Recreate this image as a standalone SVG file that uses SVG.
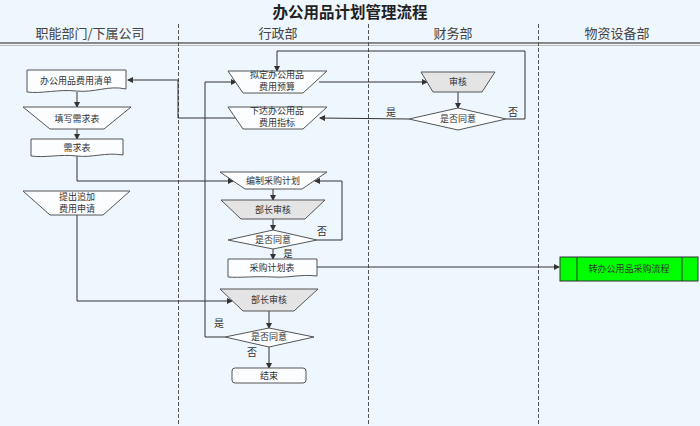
<svg xmlns="http://www.w3.org/2000/svg" width="700" height="426" viewBox="0 0 700 426">
<defs>
<marker id="arr" markerWidth="6" markerHeight="6" refX="5" refY="3" orient="auto" markerUnits="userSpaceOnUse">
<path d="M0,0 L6,3 L0,6 Z" fill="#333"/>
</marker>
<style>
.t{font-family:"Noto Sans CJK SC","Noto Sans",sans-serif;font-size:9px;fill:#333;text-anchor:middle}
.lb{font-family:"Noto Sans CJK SC","Noto Sans",sans-serif;font-size:10px;fill:#333;text-anchor:middle}
.hd{font-family:"Noto Sans CJK SC","Noto Sans",sans-serif;font-size:13px;fill:#444;text-anchor:middle}
.sh{fill:#fbfdff;stroke:#555;stroke-width:1}
.gr{fill:#e4e4e4;stroke:#555;stroke-width:1}
.c{fill:none;stroke:#333;stroke-width:1}
.ca{fill:none;stroke:#333;stroke-width:1;marker-end:url(#arr)}
.lane{stroke:#555;stroke-width:1;stroke-dasharray:4 2}
</style>
</defs>
<rect x="0" y="0" width="700" height="426" fill="#eef6fe"/>
<g id="header">
<text x="350" y="18" font-family="'Noto Sans CJK SC',sans-serif" font-size="15.5" font-weight="bold" fill="#222" text-anchor="middle">办公用品计划管理流程</text>
<text class="hd" x="90" y="38">职能部门/下属公司</text>
<text class="hd" x="278" y="38">行政部</text>
<text class="hd" x="453" y="38">财务部</text>
<text class="hd" x="617" y="38">物资设备部</text>
<line x1="0" y1="43" x2="700" y2="43" stroke="#888" stroke-width="2"/>
<line x1="0" y1="45.5" x2="700" y2="45.5" stroke="#bbb" stroke-width="1"/>
</g>
<g id="lanes">
<line class="lane" x1="178.5" y1="24" x2="178.5" y2="426"/>
<line class="lane" x1="368.5" y1="24" x2="368.5" y2="426"/>
<line class="lane" x1="538.5" y1="24" x2="538.5" y2="426"/>
</g>
<g id="connectors">
<polyline class="ca" points="236,118 178,118 178,80 128,80"/>
<polyline class="ca" points="409,119 320,118"/>
<polyline class="ca" points="506,119 525,119 525,51 277,51 277,71"/>
<polyline class="ca" points="319,82 427,82"/>
<polyline class="ca" points="225,337 205,337 205,82 236,82"/>
<polyline class="ca" points="458,92 458,108"/>
<polyline class="ca" points="77,92 77,107"/>
<polyline class="ca" points="77,129 77,139"/>
<polyline class="ca" points="77,156 77,181 233,181"/>
<polyline class="ca" points="273,189 273,200"/>
<polyline class="ca" points="273,219 273,230"/>
<polyline class="ca" points="317,240 342,240 342,181 315,181"/>
<polyline class="ca" points="273,249 273,259"/>
<polyline class="ca" points="317,267 559,267"/>
<polyline class="ca" points="77,215 77,301 232,301"/>
<polyline class="ca" points="269,311 269,328"/>
<polyline class="ca" points="269,347 269,368"/>
</g>
<g id="labels">
<text class="lb" x="391" y="116">是</text>
<text class="lb" x="513" y="116">否</text>
<text class="lb" x="322" y="235">否</text>
<text class="lb" x="288" y="257" style="font-size:9.5px">是</text>
<text class="lb" x="219" y="327">是</text>
<text class="lb" x="252" y="356">否</text>
</g>
<g id="n_qingdan">
<path class="sh" d="M27,70 H126 V89 C108,85 95,93 76,91 C58,89 42,94 27,92 Z"/>
<text class="t" x="76" y="84">办公用品费用清单</text>
</g>
<g id="n_tianxie">
<path class="sh" d="M23,107 H131 L104,129 H50 Z"/>
<text class="t" x="77" y="122">填写需求表</text>
</g>
<g id="n_xuqiu">
<path class="sh" d="M31,139 H123 V155 C105,152 92,158 77,156 C60,154 45,158 31,156 Z"/>
<text class="t" x="77" y="151">需求表</text>
</g>
<g id="n_tichu">
<path class="sh" d="M23,191 H130 L103,215 H50 Z"/>
<text class="t" x="77" y="200">提出追加</text>
<text class="t" x="77" y="212">费用申请</text>
</g>
<g id="n_niding">
<path class="sh" d="M228,71 H327 L303,93 H243 Z"/>
<text class="t" x="277" y="78">拟定办公用品</text>
<text class="t" x="277" y="90">费用预算</text>
</g>
<g id="n_xiada">
<path class="sh" d="M228,107 H327 L303,129 H243 Z"/>
<text class="t" x="277" y="114">下达办公用品</text>
<text class="t" x="277" y="126">费用指标</text>
</g>
<g id="n_shenhe">
<path class="gr" d="M421,72 H495 L482,92 H433 Z"/>
<text class="t" x="458" y="85">审核</text>
</g>
<g id="n_tongyi1">
<path class="sh" d="M458,108 L506,119 L458,130 L409,119 Z"/>
<text class="t" x="458" y="122">是否同意</text>
</g>
<g id="n_bianzhi">
<path class="sh" d="M220,172 H327 L302,189 H245 Z"/>
<text class="t" x="273" y="184">编制采购计划</text>
</g>
<g id="n_buzhang1">
<path class="gr" d="M221,200 H325 L305,219 H241 Z"/>
<text class="t" x="273" y="213">部长审核</text>
</g>
<g id="n_tongyi2">
<path class="sh" d="M273,230 L317,240 L273,249 L228,240 Z"/>
<text class="t" x="273" y="243">是否同意</text>
</g>
<g id="n_caigou">
<path class="sh" d="M228,259 H317 V276 C300,274 290,278 273,277 C255,276 240,278 228,277 Z"/>
<text class="t" x="272" y="271">采购计划表</text>
</g>
<g id="n_zhuan">
<rect x="560" y="257" width="138" height="24" fill="#00ff00" stroke="#333" stroke-width="1"/>
<line x1="577" y1="257" x2="577" y2="281" stroke="#333"/>
<line x1="682" y1="257" x2="682" y2="281" stroke="#333"/>
<text class="t" x="629" y="272">转办公用品采购流程</text>
</g>
<g id="n_buzhang2">
<path class="gr" d="M220,289 H318 L294,311 H243 Z"/>
<text class="t" x="269" y="303">部长审核</text>
</g>
<g id="n_tongyi3">
<path class="sh" d="M269,328 L314,337 L269,347 L225,337 Z"/>
<text class="t" x="269" y="340">是否同意</text>
</g>
<g id="n_end">
<rect class="sh" x="232" y="368" width="74" height="15" rx="3"/>
<text class="t" x="269" y="379">结束</text>
</g>
</svg>
